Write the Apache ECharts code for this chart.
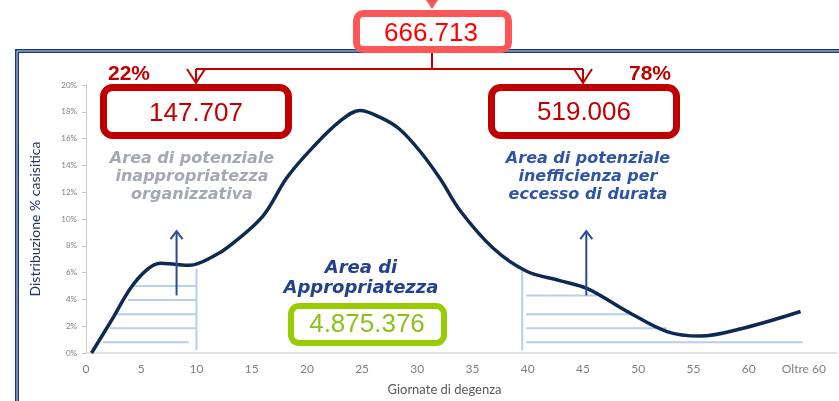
<!DOCTYPE html>
<html>
<head>
<meta charset="utf-8">
<script src="https://cdn.jsdelivr.net/npm/echarts@6/dist/echarts.min.js"></script>
<style>
  html, body { margin: 0; padding: 0; background: #ffffff; }
  #chart { width: 839px; height: 401px; }
</style>
</head>
<body>
<div id="chart"></div>
<script>
// Length-of-stay distribution (days of stay vs % of cases)
const days  = [0.5, 2.5, 4.0, 5.5, 6.7, 8.0, 9.4, 11.5, 13.0, 16.0, 18.2, 20.6, 23.0, 24.8, 26.6, 28.4, 30.3, 32.1, 33.9, 36.9, 39.9, 42.9, 45.4, 49.0, 52.6, 55.6, 59.5, 64.7];
const share = [0, 2.7, 4.8, 6.2, 6.7, 6.62, 6.55, 7.2, 8.0, 10.2, 13.1, 15.4, 17.3, 18.1, 17.6, 16.7, 15.0, 12.96, 10.6, 7.8, 6.1, 5.4, 4.8, 3.1, 1.6, 1.26, 1.85, 3.1];

// Axis ticks (last one is the "beyond 60 days" bucket)
const xTicks = [0, 5, 10, 15, 20, 25, 30, 35, 40, 45, 50, 55, 60, 65];
const xTickLabels = ['0', '5', '10', '15', '20', '25', '30', '35', '40', '45', '50', '55', '60', 'Oltre 60'];
const yTicks = [0, 2, 4, 6, 8, 10, 12, 14, 16, 18, 20];

// Case counts shown in the callout boxes
const totalCases = '666.713';
const shortStayCases = '147.707';
const longStayCases = '519.006';
const appropriateCases = '4.875.376';
const shortStayShare = '22%';
const longStayShare = '78%';

// Hatching of the two boundary areas, segments as [x1, y1, x2, y2] in axis units
const hatchShort = [
  [10, 6.3, 10, 0.2],
  [4.25, 5.0, 10, 5.0],
  [3.8, 3.95, 10, 3.95],
  [2.8, 2.9, 10, 2.9],
  [2.17, 1.85, 10, 1.85],
  [1.54, 0.8, 9.3, 0.8]
];
const hatchLong = [
  [39.5, 6.3, 39.5, 0.2],
  [39.85, 4.3, 46.3, 4.3],
  [39.85, 2.9, 49.5, 2.9],
  [39.85, 1.85, 52.6, 1.85],
  [39.85, 0.8, 64.9, 0.8]
];
// Upward arrows as [x, yFrom, yTo]
const arrows = [
  [8.2, 4.3, 9.1],
  [45.3, 4.3, 9.1]
];

const curveData = days.map((d, i) => [d, share[i]]);
const labelFor = v => {
  const i = xTicks.indexOf(v);
  return i >= 0 ? xTickLabels[i] : '';
};

const chart = echarts.init(document.getElementById('chart'), null, { renderer: 'canvas' });

const segmentRender = color => (params, api) => {
  const p1 = api.coord([api.value(0), api.value(1)]);
  const p2 = api.coord([api.value(2), api.value(3)]);
  return {
    type: 'line',
    shape: { x1: p1[0], y1: p1[1], x2: p2[0], y2: p2[1] },
    style: { stroke: color, lineWidth: 2 }
  };
};

const arrowRender = (params, api) => {
  const a = api.coord([api.value(0), api.value(1)]);
  const b = api.coord([api.value(0), api.value(2)]);
  return {
    type: 'group',
    children: [
      { type: 'line', shape: { x1: a[0], y1: a[1], x2: b[0], y2: b[1] }, style: { stroke: '#2b4b97', lineWidth: 2 } },
      { type: 'polyline', shape: { points: [[b[0] - 6, b[1] + 8], [b[0], b[1]], [b[0] + 6, b[1] + 8]] }, style: { stroke: '#2b4b97', lineWidth: 2, fill: null } }
    ]
  };
};

const red = '#c00000';
const coral = '#ff5757';

const option = {
  backgroundColor: '#ffffff',
  animation: false,
  grid: { left: 86, right: 2, top: 85, bottom: 46 },
  xAxis: {
    type: 'value',
    min: 0,
    max: 68,
    interval: 5,
    name: 'Giornate di degenza',
    nameLocation: 'middle',
    nameGap: 30,
    nameTextStyle: { fontFamily: 'Lato', fontSize: 13, color: '#595959', padding: [0, 34, 0, 0] },
    axisLine: { lineStyle: { color: '#d9d9d9', width: 1.5 } },
    axisTick: { show: false },
    axisLabel: {
      margin: 10,
      fontFamily: 'Lato',
      fontSize: 12,
      color: '#7f7f7f',
      showMaxLabel: false,
      formatter: v => labelFor(v)
    },
    splitLine: { show: false }
  },
  yAxis: {
    type: 'value',
    min: 0,
    max: 20,
    interval: 2,
    name: 'Distribuzione % casisitica',
    nameLocation: 'middle',
    nameGap: 44,
    nameTextStyle: { fontFamily: 'Lato', fontSize: 14, color: '#1f3864' },
    axisLine: { show: true, lineStyle: { color: '#c8c8c8' } },
    axisTick: { show: true, inside: false, length: 4, lineStyle: { color: '#c8c8c8' } },
    axisLabel: {
      margin: 9,
      fontFamily: 'Lato',
      fontSize: 8,
      color: '#7f7f7f',
      formatter: v => (yTicks.indexOf(v) >= 0 ? v + '%' : '')
    },
    splitLine: { show: false }
  },
  series: [
    {
      type: 'custom',
      name: 'hatchShort',
      renderItem: segmentRender('#b7cfec'),
      data: hatchShort,
      encode: { x: [0, 2], y: [1, 3] },
      z: 1,
      silent: true
    },
    {
      type: 'custom',
      name: 'hatchLong',
      renderItem: segmentRender('#b7cfec'),
      data: hatchLong,
      encode: { x: [0, 2], y: [1, 3] },
      z: 1,
      silent: true
    },
    {
      type: 'line',
      name: 'Distribuzione',
      data: curveData,
      smooth: 0.35,
      showSymbol: false,
      lineStyle: { color: '#0e2a52', width: 3.5 },
      z: 3
    },
    {
      type: 'custom',
      name: 'arrows',
      renderItem: arrowRender,
      data: arrows,
      encode: { x: 0, y: [1, 2] },
      z: 4,
      silent: true
    }
  ],
  graphic: [
    // double border frame
    { type: 'rect', shape: { x: 17, y: 51, width: 900, height: 400 }, style: { fill: null, stroke: '#1d3b78', lineWidth: 4 }, z: 1 },
    { type: 'rect', shape: { x: 17, y: 51, width: 900, height: 400 }, style: { fill: null, stroke: '#c9d4ea', lineWidth: 1 }, z: 1 },

    // total box with marker above
    { type: 'polygon', shape: { points: [[426, 0], [438, 0], [432, 9]] }, style: { fill: coral }, z: 10 },
    { type: 'rect', shape: { x: 356.5, y: 13.5, width: 152, height: 36, r: 7 }, style: { fill: '#ffffff', stroke: coral, lineWidth: 7 }, z: 10 },
    { type: 'text', x: 431, y: 34, style: { text: totalCases, fill: '#ff0000', font: '26px "Liberation Sans", Arial, sans-serif', align: 'center', verticalAlign: 'middle' }, z: 11 },

    // connector splitting into the two tails
    { type: 'polyline', shape: { points: [[432, 53], [432, 69]] }, style: { stroke: red, lineWidth: 2 }, z: 10 },
    { type: 'polyline', shape: { points: [[196, 69], [583, 69]] }, style: { stroke: red, lineWidth: 2 }, z: 10 },
    { type: 'polyline', shape: { points: [[196, 69], [196, 83]] }, style: { stroke: red, lineWidth: 2 }, z: 10 },
    { type: 'polyline', shape: { points: [[187, 69], [196, 83], [205, 69]] }, style: { stroke: red, lineWidth: 2, fill: null }, z: 10 },
    { type: 'polyline', shape: { points: [[583, 69], [583, 83]] }, style: { stroke: red, lineWidth: 2 }, z: 10 },
    { type: 'polyline', shape: { points: [[574, 69], [583, 83], [592, 69]] }, style: { stroke: red, lineWidth: 2, fill: null }, z: 10 },

    { type: 'text', x: 129, y: 74, style: { text: shortStayShare, fill: red, font: 'bold 21px "Liberation Sans", Arial, sans-serif', align: 'center', verticalAlign: 'middle' }, z: 11 },
    { type: 'text', x: 650, y: 74, style: { text: longStayShare, fill: red, font: 'bold 21px "Liberation Sans", Arial, sans-serif', align: 'center', verticalAlign: 'middle' }, z: 11 },

    // tail boxes
    { type: 'rect', shape: { x: 103.5, y: 87.5, width: 185, height: 48, r: 9 }, style: { fill: '#ffffff', stroke: red, lineWidth: 7 }, z: 10 },
    { type: 'text', x: 196, y: 114, style: { text: shortStayCases, fill: red, font: '26px "Liberation Sans", Arial, sans-serif', align: 'center', verticalAlign: 'middle' }, z: 11 },
    { type: 'rect', shape: { x: 491.5, y: 87.5, width: 185, height: 48, r: 9 }, style: { fill: '#ffffff', stroke: red, lineWidth: 7 }, z: 10 },
    { type: 'text', x: 584, y: 113, style: { text: longStayCases, fill: red, font: '26px "Liberation Sans", Arial, sans-serif', align: 'center', verticalAlign: 'middle' }, z: 11 },

    // area descriptions
    { type: 'text', x: 192, y: 177, style: { text: 'Area di potenziale\ninappropriatezza\norganizzativa', fill: '#a4a8b4', font: 'italic bold 16px "DejaVu Sans", sans-serif', lineHeight: 18, align: 'center', verticalAlign: 'middle' }, z: 11 },
    { type: 'text', x: 588, y: 177, style: { text: 'Area di potenziale\ninefficienza per\neccesso di durata', fill: '#2f54a6', font: 'italic bold 16px "DejaVu Sans", sans-serif', lineHeight: 18, align: 'center', verticalAlign: 'middle' }, z: 11 },
    { type: 'text', x: 361, y: 278, style: { text: 'Area di\nAppropriatezza', fill: '#24418f', font: 'italic bold 18px "DejaVu Sans", sans-serif', lineHeight: 20, align: 'center', verticalAlign: 'middle' }, z: 11 },

    // appropriate cases box
    { type: 'rect', shape: { x: 291, y: 306, width: 153, height: 37, r: 8 }, style: { fill: '#ffffff', stroke: '#99cc00', lineWidth: 6 }, z: 10 },
    { type: 'text', x: 367, y: 325, style: { text: appropriateCases, fill: '#8cc11a', font: '26px "Liberation Sans", Arial, sans-serif', align: 'center', verticalAlign: 'middle' }, z: 11 }
  ]
};

chart.setOption(option);
</script>
</body>
</html>
